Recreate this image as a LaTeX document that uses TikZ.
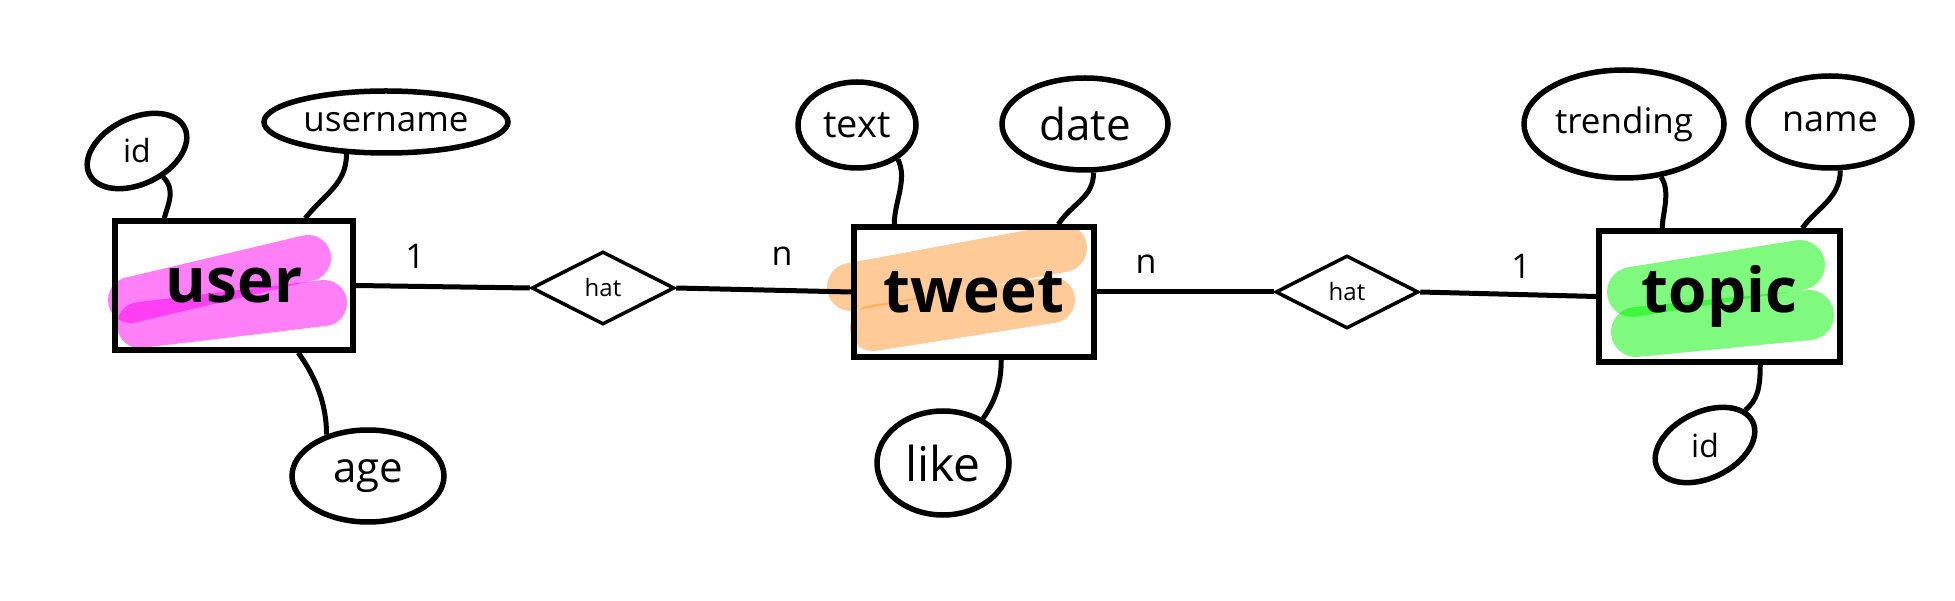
\documentclass[tikz,border=0pt]{standalone}
\usepackage{fontspec}
\setmainfont{Open Sans}
\usetikzlibrary{shapes.geometric,calc}
\definecolor{hlpink}{RGB}{255,0,240}
\definecolor{hlorange}{RGB}{251,150,50}
\definecolor{hlgreen}{RGB}{0,245,0}
\tikzset{
  entity/.style={draw, line width=5.5pt, rectangle, inner sep=0pt, font=\fontsize{62}{62}\selectfont\bfseries},
  attr/.style={draw, line width=5.5pt, ellipse, inner sep=0pt},
  rel/.style={draw, line width=3.5pt, diamond, inner sep=0pt, minimum width=143pt, minimum height=73pt, font=\fontsize{24}{24}\selectfont},
  conn/.style={line width=5pt},
  card/.style={font=\fontsize{34}{34}\selectfont},
  hl/.style={line width=46pt, line cap=round, draw opacity=0.5},
}
\begin{document}
\begin{tikzpicture}[x=1pt,y=-1pt]
\useasboundingbox (0,0) rectangle (1955,601);
% highlights
\draw[hl, hlpink] (131,300) -- (308,258);
\draw[hl, hlpink] (140,325) -- (324,303);
\draw[hl, hlorange, line width=48pt] (851,287) -- (1063,248);
\draw[hl, hlorange] (873,328) -- (1052,300);
\draw[hl, hlgreen, line width=50pt] (1632,292) -- (1800,265);
\draw[hl, hlgreen, line width=50pt] (1636,332) -- (1809,315);
% entities
\node[entity, minimum width=238pt, minimum height=129pt] (user) at (234,285.5) {user};
\node[entity, minimum width=240pt, minimum height=130pt] (tweet) at (974,292) {tweet};
\node[entity, minimum width=241pt, minimum height=131pt] (topic) at (1719.5,296.5) {topic};
% relations
\node[rel] (r1) at (603,288) {hat};
\node[rel] (r2) at (1347,292) {hat};
% attributes
\node[attr, minimum width=106pt, minimum height=66pt, rotate=26, font=\fontsize{32}{32}\selectfont] (uid) at (137,151) {\rotatebox{-26}{id}};
\node[attr, minimum width=244pt, minimum height=62pt, font=\fontsize{35}{35}\selectfont] (uname) at (386,122) {username};
\node[attr, minimum width=152pt, minimum height=92pt, font=\fontsize{42}{42}\selectfont] (age) at (368,476) {age};
\node[attr, minimum width=118pt, minimum height=86pt, font=\fontsize{38}{38}\selectfont] (text) at (857,125) {text};
\node[attr, minimum width=166pt, minimum height=92pt, font=\fontsize{44}{44}\selectfont] (date) at (1085,124) {date};
\node[attr, minimum width=132pt, minimum height=104pt, font=\fontsize{48}{48}\selectfont] (like) at (943,463) {like};
\node[attr, minimum width=200pt, minimum height=108pt, font=\fontsize{35}{35}\selectfont] (trend) at (1624,124) {trending};
\node[attr, minimum width=164pt, minimum height=92pt, font=\fontsize{36}{36}\selectfont] (name) at (1830,122) {name};
\node[attr, minimum width=106pt, minimum height=66pt, rotate=26, font=\fontsize{32}{32}\selectfont] (tid) at (1705,445) {\rotatebox{-26}{id}};
% attachment points on boxes
\coordinate (ua) at ($(user.north west)+(52,0)$);
\coordinate (ub) at ($(user.north west)+(193,0)$);
\coordinate (uc) at ($(user.south west)+(186,0)$);
\coordinate (ta) at ($(tweet.north west)+(43,0)$);
\coordinate (tb) at ($(tweet.north west)+(207,0)$);
\coordinate (tc) at ($(tweet.south west)+(150,0)$);
\coordinate (pa) at ($(topic.north west)+(66,0)$);
\coordinate (pb) at ($(topic.north west)+(206,0)$);
\coordinate (pc) at ($(topic.south west)+(164,0)$);
% attribute connectors
\draw[conn] (ua) .. controls +(4,-15) and (176,190) .. (uid);
\draw[conn] (uname.-141) .. controls +(0,30) and +(20,-25) .. (ub);
\draw[conn] (uc) .. controls +(18,25) and +(0,-30) .. (age.135);
\draw[conn] (text.-40) .. controls +(10,20) and +(0,-22) .. (ta);
\draw[conn] (date.-80) .. controls +(0,25) and +(15,-22) .. (tb);
\draw[conn] (tc) .. controls +(0,28) and +(10,-15) .. (like.48);
\draw[conn] (trend.-55) .. controls +(10,15) and +(0,-15) .. (pa);
\draw[conn] (name.-78) .. controls +(0,28) and +(14,-20) .. (pb);
\draw[conn] (pc) .. controls +(0,25) and (1757,400) .. (tid);
% relationship lines
\draw[conn] (user.east) -- (r1.west);
\draw[conn] (r1.east) -- (tweet.west);
\draw[conn] (tweet.east) -- (r2.west);
\draw[conn] (r2.east) -- (topic.west);
% cardinalities
\node[card] (c1) at (415,256) {1};
\node[card] (c2) at (782,256) {n};
\node[card] (c3) at (1146,264) {n};
\node[card] (c4) at (1521,266) {1};
\end{tikzpicture}
\end{document}
